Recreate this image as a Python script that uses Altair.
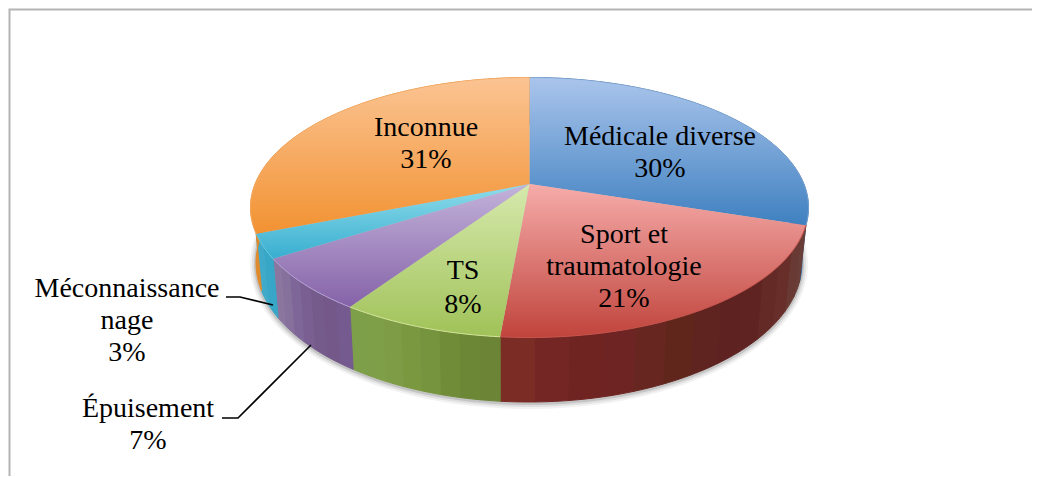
import math
import altair as alt
import pandas as pd

# ---- values (clockwise from 12 o'clock)
categories = ["Médicale diverse", "Sport et traumatologie", "TS", "Épuisement", "Méconnaissance nage", "Inconnue"]
values = [30.0, 21.4, 8.0, 6.6, 3.0, 31.0]
top_light = ["#aac5ec", "#f6acaa", "#d6e9ad", "#c3b3da", "#8fdcea", "#fbc493"]
top_dark = ["#3f80c0", "#c0443c", "#a0c258", "#8562a8", "#38aed0", "#f29232"]
rim_colors = ["#8fb2de", "#c9544e", "#d3e69a", "#b7a4d6", "#6cc8e0", "#f8b070"]
rim_widths = [0.6, 1, 1, 1, 1, 0.6]
wall_stripes = [
    ["#3b6d9f"],
    ["#6a3e38", "#693a34", "#682f2a", "#642a26", "#5f2322", "#5e2320", "#5f2420", "#60261c", "#672620", "#6e2422", "#702422", "#732624", "#7b2c24"],
    ["#6b8435", "#6c8735", "#708c38", "#76943d", "#7a9840", "#7e9c45", "#7f9e48", "#7d9f4a"],
    ["#745a8e", "#735889", "#755a8c", "#7a6092", "#7f6698", "#86709c", "#8b76a0"],
    ["#38a6c6", "#40aaca"],
    ["#e08a2c"],
]
label_lines = [
    ("Médicale diverse", 660, 137), ("30%", 660, 169),
    ("Inconnue", 426, 128), ("31%", 426, 160),
    ("Sport et", 624, 235), ("traumatologie", 624, 267), ("21%", 624, 299),
    ("TS", 463, 271), ("8%", 463, 305),
    ("Méconnaissance", 127, 289), ("nage", 127, 321), ("3%", 127, 353),
    ("Épuisement", 148, 409), ("7%", 148, 441),
]
leaders = {"m": [(226, 297), (240, 297), (273, 305)], "e": [(222, 418), (238, 418), (311, 345)]}

# ---- layout of the tilted disc
W, H = 1024, 468
CX, CY, A, B = 529.5, 207.5, 279.0, 130.0     # upper rim
BX, BY, BA, BB = 529.0, 263.0, 273.0, 139.0   # lower rim
TILT = 0.18                                    # how far the apex sits above the rim centre
APEX = (CX, CY - TILT * B)


def project(theta):
    u, v = math.sin(theta), math.cos(theta)
    d = 1 + TILT * v
    return u * math.sqrt(1 - TILT ** 2) / d, (v + TILT) / d


def upper(theta):
    X, Y = project(theta)
    return CX + A * X, CY - B * Y


def lower(theta):
    X, Y = project(theta)
    return BX + BA * X, BY - BB * Y


edges = [0.0]
for v in values:
    edges.append(edges[-1] + v)
angle = lambda p: 2 * math.pi * p / edges[-1]


def arc(a0, a1, fn):
    n = max(2, int(abs(a1 - a0) / 0.02))
    return [fn(a0 + (a1 - a0) * i / n) for i in range(n + 1)]


xs = alt.X("x:Q", scale=alt.Scale(domain=[8, 8 + W], nice=False, zero=False), axis=None)
ys = alt.Y("y:Q", scale=alt.Scale(domain=[8 + H, 8], nice=False, zero=False), axis=None)

layers = []

# frame
frame = pd.DataFrame([(9.5, 8 + H, 0), (9.5, 9.5, 1), (8 + W, 9.5, 2)], columns=["x", "y", "o"])
layers.append(alt.Chart(frame).mark_line(color="#b4b4b4", strokeWidth=2).encode(x=xs, y=ys, order="o:Q"))

# soft shadow under the disc
for grow, alpha in [(6, 0.05), (4, 0.07), (2, 0.12)]:
    pts = [(BX + (BA + grow) * math.cos(i * math.pi / 90), BY + 1 + (BB + grow) * math.sin(i * math.pi / 90)) for i in range(181)]
    d = pd.DataFrame([(x, y, i) for i, (x, y) in enumerate(pts)], columns=["x", "y", "o"])
    layers.append(alt.Chart(d).mark_line(fill="#000000", fillOpacity=alpha, strokeWidth=0, stroke="transparent").encode(x=xs, y=ys, order="o:Q"))

# side wall, one facet per stripe colour
rows = []
sid = 0
for i, stripes in enumerate(wall_stripes):
    a0, a1 = angle(edges[i]), angle(edges[i + 1])
    n = len(stripes)
    for j, col in enumerate(stripes):
        s0 = a0 + (a1 - a0) * j / n
        s1 = a0 + (a1 - a0) * (j + 1) / n
        poly = arc(s0, s1, upper) + arc(s1, s0, lower)
        poly.append(poly[0])
        for o, (x, y) in enumerate(poly):
            rows.append((x, y, o, sid, col))
        sid += 1
walls = pd.DataFrame(rows, columns=["x", "y", "o", "sid", "col"])
layers.append(
    alt.Chart(walls).mark_line(strokeWidth=1).encode(
        x=xs, y=ys, order="o:Q", detail="sid:N",
        fill=alt.Fill("col:N", scale=None, legend=None),
        stroke=alt.Stroke("col:N", scale=None, legend=None),
    )
)

# upper faces
for i, name in enumerate(categories):
    a0, a1 = angle(edges[i]), angle(edges[i + 1])
    poly = [APEX] + arc(a0, a1, upper) + [APEX]
    d = pd.DataFrame([(x, y, o) for o, (x, y) in enumerate(poly)], columns=["x", "y", "o"])
    d["slice"] = name
    grad = alt.Gradient(
        gradient="linear", x1=0, x2=0, y1=0, y2=1,
        stops=[alt.GradientStop(offset=0, color=top_light[i]), alt.GradientStop(offset=1, color=top_dark[i])],
    )
    layers.append(alt.Chart(d).mark_line(fill=grad, strokeWidth=0, stroke="transparent").encode(x=xs, y=ys, order="o:Q"))
    rim = pd.DataFrame([(x, y, o) for o, (x, y) in enumerate(arc(a0, a1, upper))], columns=["x", "y", "o"])
    layers.append(alt.Chart(rim).mark_line(color=rim_colors[i], strokeWidth=rim_widths[i]).encode(x=xs, y=ys, order="o:Q"))

# leader lines
rows = [(x, y, o, k) for k, p in leaders.items() for o, (x, y) in enumerate(p)]
lead = pd.DataFrame(rows, columns=["x", "y", "o", "k"])
layers.append(alt.Chart(lead).mark_line(color="#000000", strokeWidth=1.6).encode(x=xs, y=ys, order="o:Q", detail="k:N"))

# labels
labels = pd.DataFrame(label_lines, columns=["t", "x", "y"])
layers.append(
    alt.Chart(labels).mark_text(font="Liberation Serif", fontSize=28, color="#000000", align="center", baseline="middle").encode(x=xs, y=ys, text="t:N")
)

chart = alt.layer(*layers).properties(width=W, height=H, padding=0, background="white", autosize=alt.AutoSizeParams(type="none")).configure_view(stroke=None)
chart.save("out.html", embed_options={"renderer": "svg", "actions": False})
